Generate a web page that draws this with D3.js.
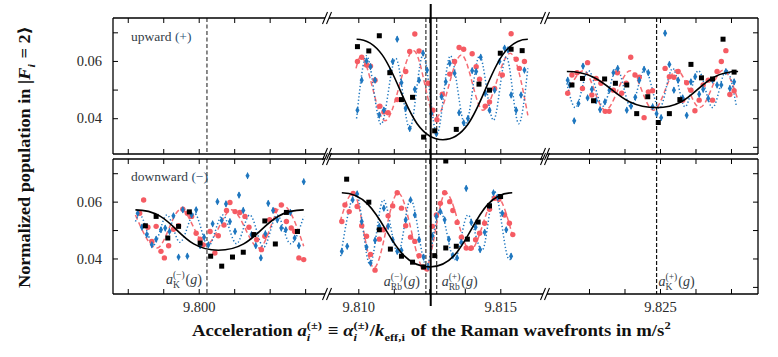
<!DOCTYPE html>
<meta charset="utf-8">
<style>
body { margin: 0; background: #fff; }
svg text { font-family: "Liberation Serif", "DejaVu Serif", serif; white-space: pre; }
</style>
<svg width="778" height="357"></svg>
<script src="https://cdn.jsdelivr.net/npm/d3@7"></script>
<script>

// ---- data : [acceleration (m/s^2), normalized population] ----
var upRbBlack = [[9.80997,0.0650],[9.81037,0.0635],[9.81074,0.0688],[9.81111,0.0559],[9.81152,0.0465],[9.81191,0.0473],[9.81230,0.0334],[9.81269,0.0356],[9.81345,0.0361],[9.81425,0.0519],[9.81462,0.0498],[9.81500,0.0627],[9.81538,0.0641],[9.81577,0.0636]];
var upRbRed = [[9.80997,0.0598],[9.81012,0.0613],[9.81029,0.0586],[9.81043,0.0582],[9.81059,0.0533],[9.81076,0.0442],[9.81090,0.0422],[9.81105,0.0419],[9.81137,0.0465],[9.81167,0.0563],[9.81181,0.0633],[9.81199,0.0694],[9.81214,0.0635],[9.81246,0.0522],[9.81263,0.0428],[9.81277,0.0395],[9.81296,0.0484],[9.81322,0.0554],[9.81339,0.0598],[9.81355,0.0647],[9.81371,0.0641],[9.81401,0.0625],[9.81415,0.0580],[9.81427,0.0536],[9.81447,0.0442],[9.81462,0.0457],[9.81480,0.0504],[9.81507,0.0551],[9.81538,0.0695],[9.81556,0.0606],[9.81567,0.0574],[9.81585,0.0598]];
var upRbBlue = [[9.80997,0.0428],[9.81012,0.0533],[9.81029,0.0600],[9.81043,0.0580],[9.81059,0.0533],[9.81074,0.0411],[9.81090,0.0428],[9.81111,0.0563],[9.81121,0.0598],[9.81137,0.0676],[9.81152,0.0524],[9.81167,0.0434],[9.81181,0.0364],[9.81199,0.0501],[9.81214,0.0533],[9.81228,0.0627],[9.81242,0.0568],[9.81257,0.0416],[9.81275,0.0346],[9.81293,0.0475],[9.81308,0.0527],[9.81322,0.0592],[9.81339,0.0557],[9.81355,0.0419],[9.81371,0.0384],[9.81386,0.0399],[9.81401,0.0566],[9.81415,0.0563],[9.81431,0.0613],[9.81447,0.0487],[9.81462,0.0428],[9.81480,0.0498],[9.81497,0.0598],[9.81515,0.0645],[9.81527,0.0639],[9.81538,0.0481],[9.81556,0.0428],[9.81573,0.0481],[9.81585,0.0568]];
var upRbFitBlack = [[9.80994,0.0676],[9.81298,0.0325],[9.81597,0.0676]];
var upRbFitRed = [[9.80992,0.0574],[9.81008,0.0615],[9.81094,0.0391],[9.81195,0.0636],[9.81273,0.0402],[9.81363,0.0621],[9.81439,0.0428],[9.81535,0.0627],[9.81597,0.0410]];
var upRbFitBlue = [[9.80994,0.0399],[9.81029,0.0618],[9.81080,0.0379],[9.81132,0.0609],[9.81181,0.0364],[9.81228,0.0621],[9.81277,0.0346],[9.81324,0.0618],[9.81377,0.0375],[9.81427,0.0618],[9.81476,0.0393],[9.81521,0.0615],[9.81565,0.0381],[9.81597,0.0574]];

var upKBlack = [[9.82190,0.0516],[9.82227,0.0539],[9.82266,0.0461],[9.82305,0.0537],[9.82343,0.0522],[9.82383,0.0516],[9.82418,0.0416],[9.82457,0.0475],[9.82494,0.0385],[9.82533,0.0416],[9.82570,0.0465],[9.82609,0.0588],[9.82646,0.0541],[9.82685,0.0537],[9.82722,0.0676],[9.82761,0.0561]];
var upKRed = [[9.82175,0.0487],[9.82190,0.0551],[9.82208,0.0559],[9.82227,0.0504],[9.82245,0.0594],[9.82260,0.0481],[9.82275,0.0539],[9.82292,0.0522],[9.82307,0.0424],[9.82321,0.0424],[9.82336,0.0498],[9.82350,0.0559],[9.82365,0.0487],[9.82381,0.0522],[9.82397,0.0613],[9.82412,0.0551],[9.82427,0.0543],[9.82444,0.0402],[9.82459,0.0492],[9.82474,0.0496],[9.82518,0.0574],[9.82533,0.0545],[9.82549,0.0543],[9.82564,0.0563],[9.82580,0.0463],[9.82594,0.0524],[9.82609,0.0498],[9.82623,0.0426],[9.82638,0.0463],[9.82652,0.0516],[9.82670,0.0533],[9.82685,0.0463],[9.82701,0.0563],[9.82716,0.0598],[9.82732,0.0636],[9.82746,0.0483],[9.82761,0.0496]];
var upKBlue = [[9.82175,0.0533],[9.82182,0.0516],[9.82198,0.0391],[9.82213,0.0451],[9.82229,0.0582],[9.82245,0.0471],[9.82260,0.0501],[9.82275,0.0461],[9.82289,0.0430],[9.82306,0.0457],[9.82322,0.0498],[9.82336,0.0559],[9.82351,0.0574],[9.82383,0.0428],[9.82398,0.0442],[9.82413,0.0473],[9.82427,0.0533],[9.82444,0.0571],[9.82459,0.0559],[9.82474,0.0440],[9.82488,0.0416],[9.82504,0.0402],[9.82518,0.0697],[9.82533,0.0588],[9.82549,0.0498],[9.82564,0.0533],[9.82580,0.0471],[9.82594,0.0410],[9.82609,0.0527],[9.82624,0.0545],[9.82638,0.0484],[9.82652,0.0501],[9.82670,0.0469],[9.82685,0.0533],[9.82701,0.0516],[9.82716,0.0516],[9.82732,0.0563],[9.82746,0.0504],[9.82761,0.0527]];
var upKFitBlack = [[9.82172,0.0563],[9.82488,0.0437],[9.82775,0.0563]];
var upKFitRed = [[9.82172,0.0484],[9.82231,0.0566],[9.82307,0.0428],[9.82395,0.0566],[9.82477,0.0428],[9.82559,0.0568],[9.82640,0.0437],[9.82722,0.0568],[9.82775,0.0463]];
var upKFitBlue = [[9.82172,0.0522],[9.82202,0.0437],[9.82248,0.0566],[9.82299,0.0442],[9.82348,0.0574],[9.82397,0.0440],[9.82447,0.0571],[9.82498,0.0434],[9.82545,0.0574],[9.82588,0.0440],[9.82635,0.0566],[9.82685,0.0437],[9.82734,0.0568],[9.82769,0.0442]];

var downKBlack = [[9.79812,0.0515],[9.79850,0.0548],[9.79891,0.0472],[9.79929,0.0513],[9.79967,0.0564],[9.80005,0.0454],[9.80042,0.0408],[9.80081,0.0373],[9.80119,0.0405],[9.80157,0.0422],[9.80194,0.0484],[9.80233,0.0532],[9.80270,0.0451],[9.80309,0.0562],[9.80348,0.0495]];
var downKRed = [[9.79792,0.0559],[9.79806,0.0606],[9.79821,0.0510],[9.79835,0.0460],[9.79850,0.0513],[9.79867,0.0425],[9.79879,0.0402],[9.79894,0.0445],[9.79911,0.0503],[9.79929,0.0515],[9.79944,0.0573],[9.79960,0.0559],[9.79975,0.0548],[9.79991,0.0489],[9.80005,0.0468],[9.80016,0.0448],[9.80040,0.0495],[9.80057,0.0419],[9.80069,0.0480],[9.80089,0.0518],[9.80098,0.0569],[9.80110,0.0597],[9.80128,0.0565],[9.80145,0.0562],[9.80163,0.0548],[9.80177,0.0510],[9.80192,0.0484],[9.80204,0.0466],[9.80221,0.0431],[9.80233,0.0478],[9.80250,0.0536],[9.80268,0.0569],[9.80291,0.0588],[9.80309,0.0530],[9.80326,0.0507],[9.80338,0.0495],[9.80353,0.0402],[9.80370,0.0396]];
var downKBlue = [[9.79785,0.0559],[9.79800,0.0510],[9.79817,0.0484],[9.79835,0.0448],[9.79850,0.0468],[9.79867,0.0501],[9.79882,0.0507],[9.79897,0.0495],[9.79911,0.0550],[9.79929,0.0405],[9.79944,0.0571],[9.79960,0.0408],[9.79975,0.0553],[9.79991,0.0571],[9.80005,0.0445],[9.80019,0.0475],[9.80034,0.0448],[9.80049,0.0522],[9.80066,0.0600],[9.80081,0.0534],[9.80096,0.0592],[9.80110,0.0530],[9.80128,0.0495],[9.80142,0.0623],[9.80157,0.0569],[9.80172,0.0691],[9.80186,0.0484],[9.80201,0.0445],[9.80219,0.0402],[9.80235,0.0487],[9.80245,0.0594],[9.80262,0.0569],[9.80277,0.0536],[9.80291,0.0507],[9.80307,0.0501],[9.80323,0.0562],[9.80338,0.0472],[9.80353,0.0445],[9.80370,0.0670]];
var downKFitBlack = [[9.79777,0.0571],[9.80069,0.0429],[9.80370,0.0571]];
var downKFitRed = [[9.79777,0.0553],[9.79853,0.0437],[9.79937,0.0573],[9.80026,0.0448],[9.80116,0.0571],[9.80213,0.0437],[9.80295,0.0588],[9.80370,0.0443]];
var downKFitBlue = [[9.79777,0.0530],[9.79792,0.0553],[9.79841,0.0448],[9.79888,0.0553],[9.79934,0.0457],[9.79985,0.0559],[9.80034,0.0443],[9.80084,0.0553],[9.80133,0.0452],[9.80180,0.0553],[9.80229,0.0440],[9.80276,0.0553],[9.80323,0.0452],[9.80370,0.0548]];

var downRbBlack = [[9.80959,0.0679],[9.81037,0.0598],[9.81074,0.0501],[9.81113,0.0433],[9.81152,0.0408],[9.81191,0.0387],[9.81230,0.0370],[9.81269,0.0410],[9.81308,0.0437],[9.81308,0.0743],[9.81345,0.0443],[9.81384,0.0468],[9.81422,0.0528],[9.81462,0.0585],[9.81501,0.0618]];
var downRbRed = [[9.80942,0.0530],[9.80953,0.0588],[9.80968,0.0565],[9.80982,0.0629],[9.80996,0.0583],[9.81012,0.0515],[9.81029,0.0478],[9.81043,0.0414],[9.81059,0.0359],[9.81074,0.0468],[9.81088,0.0501],[9.81105,0.0550],[9.81121,0.0585],[9.81137,0.0631],[9.81152,0.0577],[9.81167,0.0515],[9.81184,0.0475],[9.81199,0.0460],[9.81214,0.0410],[9.81228,0.0370],[9.81242,0.0363],[9.81261,0.0513],[9.81275,0.0553],[9.81289,0.0594],[9.81304,0.0631],[9.81322,0.0600],[9.81333,0.0569],[9.81348,0.0527],[9.81363,0.0475],[9.81380,0.0437],[9.81398,0.0437],[9.81413,0.0466],[9.81427,0.0489],[9.81445,0.0524],[9.81462,0.0573],[9.81480,0.0612],[9.81495,0.0608],[9.81515,0.0553],[9.81532,0.0524],[9.81544,0.0484]];
var downRbBlue = [[9.80942,0.0425],[9.80961,0.0443],[9.80980,0.0606],[9.80996,0.0627],[9.81012,0.0530],[9.81029,0.0440],[9.81043,0.0384],[9.81059,0.0464],[9.81074,0.0513],[9.81090,0.0577],[9.81105,0.0513],[9.81121,0.0466],[9.81137,0.0425],[9.81152,0.0429],[9.81167,0.0536],[9.81184,0.0606],[9.81199,0.0553],[9.81214,0.0466],[9.81230,0.0405],[9.81246,0.0370],[9.81261,0.0480],[9.81275,0.0548],[9.81289,0.0565],[9.81304,0.0536],[9.81319,0.0468],[9.81333,0.0410],[9.81348,0.0402],[9.81363,0.0457],[9.81380,0.0647],[9.81398,0.0527],[9.81413,0.0510],[9.81429,0.0431],[9.81445,0.0492],[9.81462,0.0585],[9.81476,0.0631],[9.81491,0.0615],[9.81507,0.0559],[9.81521,0.0501],[9.81538,0.0408]];
var downRbFitBlack = [[9.80942,0.0631],[9.81252,0.0370],[9.81542,0.0631]];
var downRbFitRed = [[9.80936,0.0530],[9.80982,0.0631],[9.81055,0.0367],[9.81140,0.0631],[9.81234,0.0361],[9.81308,0.0631],[9.81394,0.0429],[9.81486,0.0620],[9.81542,0.0484]];
var downRbFitBlue = [[9.80938,0.0408],[9.80992,0.0631],[9.81041,0.0379],[9.81088,0.0606],[9.81140,0.0419],[9.81184,0.0608],[9.81240,0.0375],[9.81287,0.0571],[9.81339,0.0396],[9.81386,0.0553],[9.81436,0.0429],[9.81480,0.0635],[9.81532,0.0396],[9.81542,0.0402]];

var blueErr = 0.0011;

// reference accelerations (vertical lines)
var aKminus = 9.80029, aRbMinus = 9.81238, aRbPlus = 9.81276, aKplus = 9.82488, gLine = 9.81255;

// axis ticks
var xTicks = [[9.7975, 9.79875, 9.800, 9.80125, 9.8025, 9.80375],
              [9.810, 9.81125, 9.8125, 9.81375, 9.815],
              [9.8225, 9.82375, 9.825, 9.82625, 9.8275]];
var xTickLabels = ["9.800", "9.810", "9.815", "9.825"];
var yTicksLeft = [0.04, 0.05, 0.06, 0.07],
    yTicksRight = [0.03, 0.04, 0.05, 0.06, 0.07],
    yTickLabels = ["0.04", "0.06"];

// ---- layout ----
var svg = d3.select("svg"),
    left = 113, right = 758,
    breaks = [327, 545];

var panels = [{top: 18, bottom: 154}, {top: 159, bottom: 294}];

var xSeg = [
  d3.scaleLinear().domain([9.79698, 9.80452]).range([113, 327]),
  d3.scaleLinear().domain([9.808898, 9.816574]).range([327, 545]),
  d3.scaleLinear().domain([9.820951, 9.828451]).range([545, 758])
];

panels.forEach(function(p) {
  p.y = d3.scaleLinear().domain([0.0275, 0.075]).range([p.bottom, p.top]);
});

var red = "#f55b63", blue = "#1f77bf";

var groups = [
  {panel: 0, seg: 1, black: upRbBlack, red: upRbRed, blue: upRbBlue, fb: upRbFitBlack, fr: upRbFitRed, fu: upRbFitBlue},
  {panel: 0, seg: 2, black: upKBlack, red: upKRed, blue: upKBlue, fb: upKFitBlack, fr: upKFitRed, fu: upKFitBlue},
  {panel: 1, seg: 0, black: downKBlack, red: downKRed, blue: downKBlue, fb: downKFitBlack, fr: downKFitRed, fu: downKFitBlue},
  {panel: 1, seg: 1, black: downRbBlack, red: downRbRed, blue: downRbBlue, fb: downRbFitBlack, fr: downRbFitRed, fu: downRbFitBlue}
];

// clip paths
var defs = svg.append("defs");
panels.forEach(function(p, i) {
  defs.append("clipPath").attr("id", "clip" + i)
    .append("rect").attr("x", left).attr("y", p.top).attr("width", right - left).attr("height", p.bottom - p.top);
});

// vertical reference lines
function vline(g, p, v, seg, color, width, dash) {
  g.append("line")
    .attr("x1", xSeg[seg](v)).attr("x2", xSeg[seg](v))
    .attr("y1", p.top).attr("y2", p.bottom)
    .attr("stroke", color).attr("stroke-width", width).attr("stroke-dasharray", dash);
}

panels.forEach(function(p, i) {
  var g = svg.append("g").attr("clip-path", "url(#clip" + i + ")");
  vline(g, p, aKminus, 0, "#6e6e6e", 1.6, "4,2.5");
  vline(g, p, aRbMinus, 1, "#333", 1.2, "4,2");
  vline(g, p, aRbPlus, 1, "#333", 1.2, "4,2");
  vline(g, p, aKplus, 2, "#111", 1.2, "4,2");
});

// data
groups.forEach(function(d) {
  var p = panels[d.panel], xs = xSeg[d.seg], y = p.y;
  var g = svg.append("g").attr("clip-path", "url(#clip" + d.panel + ")");
  var smooth = d3.line().x(function(e) { return xs(e[0]); }).y(function(e) { return y(e[1]); }).curve(d3.curveMonotoneX);
  var bump = d3.line().x(function(e) { return xs(e[0]); }).y(function(e) { return y(e[1]); }).curve(d3.curveBumpX);

  g.append("path").attr("d", smooth(d.fr)).attr("fill", "none")
    .attr("stroke", "#f66c73").attr("stroke-width", 1.5).attr("stroke-dasharray", "5,3");
  g.append("path").attr("d", smooth(d.fu)).attr("fill", "none")
    .attr("stroke", blue).attr("stroke-width", 1.5).attr("stroke-dasharray", "1.3,2.2");

  g.selectAll(".red").data(d.red).enter().append("circle")
    .attr("cx", function(e) { return xs(e[0]); })
    .attr("cy", function(e) { return y(e[1]); })
    .attr("r", 2.7).attr("fill", red);

  var bl = g.selectAll(".blue").data(d.blue).enter().append("g")
    .attr("transform", function(e) { return "translate(" + xs(e[0]) + "," + y(e[1]) + ")"; });
  bl.append("line").attr("y1", function(e) { return y(e[1] + blueErr) - y(e[1]); })
    .attr("y2", function(e) { return y(e[1] - blueErr) - y(e[1]); })
    .attr("stroke", blue).attr("stroke-width", 1.1);
  bl.append("path").attr("d", d3.symbol(d3.symbolDiamond, 15)).attr("fill", blue);

  g.append("path").attr("d", bump(d.fb)).attr("fill", "none")
    .attr("stroke", "#000").attr("stroke-width", 1.6);

  g.selectAll(".blk").data(d.black).enter().append("rect")
    .attr("x", function(e) { return xs(e[0]) - 2.5; })
    .attr("y", function(e) { return y(e[1]) - 2.5; })
    .attr("width", 5).attr("height", 5).attr("fill", "#000");
});

// axes
panels.forEach(function(p, i) {
  xSeg.forEach(function(xs, s) {
    var b = svg.append("g").attr("transform", "translate(0," + p.bottom + ")")
      .call(d3.axisBottom(xs).tickValues(xTicks[s]).tickSizeInner(-5).tickSizeOuter(0).tickPadding(8)
        .tickFormat(function(v) {
          var t = d3.format(".3f")(v);
          return (i === 1 && xTickLabels.indexOf(t) >= 0 && Math.abs(v - +t) < 1e-9) ? t : "";
        }));
    var t = svg.append("g").attr("transform", "translate(0," + p.top + ")")
      .call(d3.axisTop(xs).tickValues(xTicks[s]).tickSizeInner(-5).tickSizeOuter(0).tickFormat(""));
    [b, t].forEach(function(a) { a.select(".domain").remove(); });
  });
  var la = svg.append("g").attr("transform", "translate(" + left + ",0)")
    .call(d3.axisLeft(p.y).tickValues(yTicksLeft).tickSizeInner(-5).tickSizeOuter(0).tickPadding(11)
      .tickFormat(function(v) { var t = d3.format(".2f")(v); return yTickLabels.indexOf(t) >= 0 ? t : ""; }));
  var ra = svg.append("g").attr("transform", "translate(" + right + ",0)")
    .call(d3.axisRight(p.y).tickValues(yTicksRight).tickSizeInner(-5).tickSizeOuter(0).tickFormat(""));
  [la, ra].forEach(function(a) { a.select(".domain").remove(); });
});

svg.selectAll(".tick line").attr("stroke", "#000").attr("stroke-width", 1);
svg.selectAll(".tick text").attr("fill", "#2a2a2a").style("font-size", "14.5px");

// frame with broken horizontal axes
var frame = svg.append("g").attr("stroke", "#000").attr("stroke-width", 1.3).attr("fill", "none");
panels.forEach(function(p) {
  frame.append("line").attr("x1", left).attr("x2", left).attr("y1", p.top).attr("y2", p.bottom);
  frame.append("line").attr("x1", right).attr("x2", right).attr("y1", p.top).attr("y2", p.bottom);
  [p.top, p.bottom].forEach(function(yy) {
    var xs = [left, breaks[0] - 2, breaks[0] + 2, breaks[1] - 2, breaks[1] + 2, right];
    for (var k = 0; k < 6; k += 2)
      frame.append("line").attr("x1", xs[k]).attr("x2", xs[k + 1]).attr("y1", yy).attr("y2", yy);
    breaks.forEach(function(bx) {
      [-2, 2].forEach(function(o) {
        frame.append("line").attr("stroke-width", 1.1)
          .attr("x1", bx + o - 2.5).attr("y1", yy + 6)
          .attr("x2", bx + o + 2.5).attr("y2", yy - 6);
      });
    });
  });
});

// g reference line across both panels
svg.append("line")
  .attr("x1", xSeg[1](gLine)).attr("x2", xSeg[1](gLine))
  .attr("y1", 4).attr("y2", 306)
  .attr("stroke", "#000").attr("stroke-width", 2);

// rich text helper: parts are plain {t, it} or stacked scripts {sup, sub}
function rich(parts, o) {
  var grp = svg.append("g").attr("fill", o.fill || "#000").style("font-weight", o.weight || "normal");
  var cx = 0;
  function put(t, size, dy, italic, fill) {
    var el = grp.append("text").attr("x", cx).attr("y", dy).style("font-size", size + "px").text(t);
    if (italic) el.style("font-style", "italic");
    if (fill) el.attr("fill", fill);
    return el.node().getComputedTextLength();
  }
  parts.forEach(function(p) {
    if (p.sup !== undefined || p.sub !== undefined) {
      var w1 = p.sup ? put(p.sup, o.ss, -o.size * 0.45, p.supIt) : 0;
      var w2 = p.sub ? put(p.sub, o.ss, o.size * 0.28, p.subIt) : 0;
      cx += Math.max(w1, w2) + 1;
    } else {
      cx += put(p.t, o.size, 0, p.it, p.fill);
    }
  });
  var sx = o.width ? o.width / cx : 1;
  var off = o.anchor === "end" ? -cx : o.anchor === "middle" ? -cx / 2 : 0;
  grp.attr("transform", "translate(" + o.x + "," + o.y + ")" + (o.rotate ? " rotate(" + o.rotate + ")" : "") +
    " scale(" + sx + ",1) translate(" + off + ",0)");
  return grp;
}

var annoFill = "#343d46";
rich([{t: "upward "}, {t: "(+)", fill: "#2c4f73"}], {x: 131, y: 41, size: 13.5, fill: annoFill});
rich([{t: "downward "}, {t: "(\u2212)", fill: "#2c4f73"}], {x: 131, y: 181, size: 13.5, fill: annoFill});

function aLabel(sub, sup, x, y, anchor) {
  rich([{t: "a", it: true}, {sup: sup, sub: sub}, {t: "("}, {t: "g", it: true}, {t: ")"}],
       {x: x, y: y, size: 14, ss: 9.5, anchor: anchor, fill: annoFill});
}
aLabel("K", "(\u2212)", xSeg[0](aKminus) - 5, 284, "end");
aLabel("Rb", "(\u2212)", xSeg[1](aRbMinus) - 6, 286, "end");
aLabel("Rb", "(+)", xSeg[1](aRbPlus) + 5, 286, "start");
aLabel("K", "(+)", xSeg[2](aKplus) + 2, 286, "start");

// axis titles
rich([{t: "Acceleration "}, {t: "a", it: true}, {sup: "(\u00b1)", sub: "i", subIt: true},
      {t: " \u2261 "}, {t: "\u03b1", it: true}, {sup: "(\u00b1)", sub: "i", subIt: true},
      {t: "/"}, {t: "k", it: true}, {sub: "eff,i"},
      {t: " of the Raman wavefronts in m/s"}, {sup: "2"}],
     {x: 432, y: 336, size: 16.5, ss: 11, anchor: "middle", weight: "bold", fill: "#111", width: 480});

rich([{t: "Normalized population in |"}, {t: "F", it: true}, {sub: "i", subIt: true}, {t: " = 2\u27e9"}],
     {x: 30, y: 157, size: 16.5, ss: 11, anchor: "middle", weight: "bold", rotate: -90, fill: "#111", width: 262});

</script>
